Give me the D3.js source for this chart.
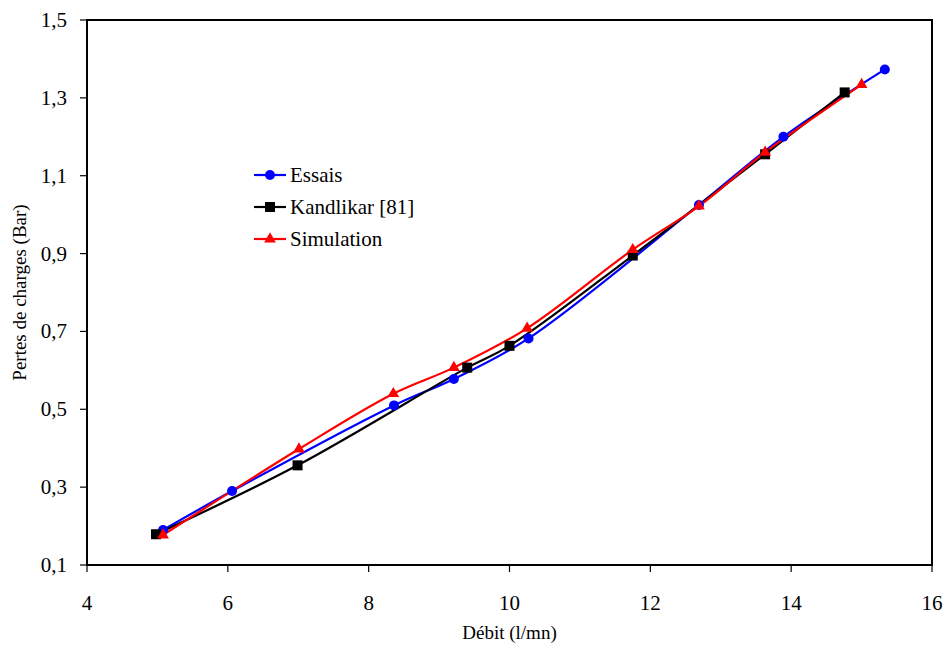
<!DOCTYPE html>
<html>
<head>
<meta charset="utf-8">
<script src="https://cdn.jsdelivr.net/npm/d3@7"></script>
</head>
<body style="margin:0">
<div id="chart"></div>
<script>
// data
const essaisX = [5.08, 6.06, 8.36, 9.21, 10.27, 12.69, 13.89, 15.33];
const essaisY = [0.19, 0.29, 0.51, 0.578, 0.682, 1.025, 1.2, 1.373];
const kandlikarX = [4.98, 6.99, 9.40, 10.0, 11.75, 13.63, 14.76];
const kandlikarY = [0.179, 0.356, 0.607, 0.663, 0.895, 1.155, 1.314];
const simulationX = [5.08, 7.01, 8.35, 9.21, 10.25, 11.75, 12.69, 13.63, 15.0];
const simulationY = [0.177, 0.398, 0.54, 0.607, 0.708, 0.91, 1.022, 1.16, 1.334];
const xTicks = [4, 6, 8, 10, 12, 14, 16];
const yTicks = [0.1, 0.3, 0.5, 0.7, 0.9, 1.1, 1.3, 1.5];

const series = [
    { name: 'Essais', xs: essaisX, ys: essaisY, color: '#0000ff', marker: 'circle' },
    { name: 'Kandlikar [81]', xs: kandlikarX, ys: kandlikarY, color: '#000000', marker: 'square' },
    { name: 'Simulation', xs: simulationX, ys: simulationY, color: '#ff0000', marker: 'triangle' }
];

const FONT = "'Liberation Serif'";

const W = 946, H = 646;
const margin = { top: 20, right: 14, bottom: 81, left: 87 };
const width = W - margin.left - margin.right;
const height = H - margin.top - margin.bottom;

const svg = d3.select('#chart').append('svg')
    .attr('width', W)
    .attr('height', H);

const g = svg.append('g')
    .attr('transform', `translate(${margin.left},${margin.top})`);

const x = d3.scaleLinear().domain([4, 16]).range([0, width]);
const y = d3.scaleLinear().domain([0.1, 1.5]).range([height, 0]);

const fmt = d => d3.format('.1f')(d).replace('.', ',');

// axes (ticks and labels placed by the scales, drawn by hand so the text keeps its font)
g.selectAll('.xtick')
    .data(xTicks)
    .enter().append('line')
    .attr('x1', d => x(d)).attr('x2', d => x(d))
    .attr('y1', height).attr('y2', height + 7)
    .attr('stroke', '#000').attr('stroke-width', 1.2);

g.selectAll('.ytick')
    .data(yTicks)
    .enter().append('line')
    .attr('x1', -7).attr('x2', 0)
    .attr('y1', d => y(d)).attr('y2', d => y(d))
    .attr('stroke', '#000').attr('stroke-width', 1.2);

xTicks.forEach(d => {
    svg.append('text')
        .attr('x', margin.left + x(d))
        .attr('y', margin.top + height + 45)
        .attr('text-anchor', 'middle')
        .style('font-family', FONT)
        .style('font-size', '21px')
        .text(d);
});

yTicks.forEach(d => {
    svg.append('text')
        .attr('x', margin.left - 20)
        .attr('y', margin.top + y(d) + 7)
        .attr('text-anchor', 'end')
        .style('font-family', FONT)
        .style('font-size', '21px')
        .text(fmt(d));
});

// frame
g.append('rect')
    .attr('x', 0).attr('y', 0)
    .attr('width', width).attr('height', height)
    .attr('fill', 'none')
    .attr('stroke', '#000')
    .attr('stroke-width', 2);

// axis titles
svg.append('text')
    .attr('x', margin.left + width / 2)
    .attr('y', 639)
    .attr('text-anchor', 'middle')
    .style('font-family', FONT)
    .style('font-size', '19px')
    .text('D\u00e9bit (l/mn)');

svg.append('text')
    .attr('transform', `translate(26,${margin.top + height / 2}) rotate(-90)`)
    .attr('text-anchor', 'middle')
    .style('font-family', FONT)
    .style('font-size', '19px')
    .text('Pertes de charges (Bar)');

const line = d3.line()
    .x(d => x(d[0]))
    .y(d => y(d[1]))
    .curve(d3.curveCatmullRom.alpha(0.5));

function drawMarker(sel, type, color) {
    if (type === 'circle') {
        sel.append('circle').attr('r', 5).attr('fill', color);
    } else if (type === 'square') {
        sel.append('rect').attr('x', -5).attr('y', -5).attr('width', 10).attr('height', 10).attr('fill', color);
    } else {
        sel.append('path').attr('d', d3.symbol(d3.symbolTriangle, 60)()).attr('fill', color);
    }
}

series.forEach(s => {
    const pts = s.xs.map((v, i) => [v, s.ys[i]]);
    g.append('path')
        .datum(pts)
        .attr('d', line)
        .attr('fill', 'none')
        .attr('stroke', s.color)
        .attr('stroke-width', 2.2);
});

series.forEach(s => {
    const pts = s.xs.map((v, i) => [v, s.ys[i]]);
    const m = g.selectAll(null)
        .data(pts)
        .enter().append('g')
        .attr('transform', d => `translate(${x(d[0])},${y(d[1])})`);
    drawMarker(m, s.marker, s.color);
});

// legend
series.forEach((s, i) => {
    const ly = 175 + i * 32;
    svg.append('line')
        .attr('x1', 254).attr('x2', 286)
        .attr('y1', ly).attr('y2', ly)
        .attr('stroke', s.color)
        .attr('stroke-width', 2.2);
    drawMarker(svg.append('g').attr('transform', `translate(270,${ly})`), s.marker, s.color);
    svg.append('text')
        .attr('x', 290)
        .attr('y', ly + 7)
        .style('font-family', FONT)
        .style('font-size', '21px')
        .text(s.name);
});
</script>
</body>
</html>
